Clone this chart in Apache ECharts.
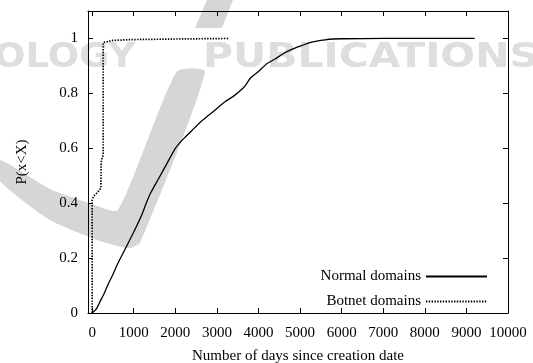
<!DOCTYPE html>
<html>
<head>
<meta charset="utf-8">
<script src="https://cdn.jsdelivr.net/npm/echarts@6/dist/echarts.min.js"></script>
<style>html,body{margin:0;padding:0;background:#fff}#c{width:533px;height:363px}</style>
</head>
<body>
<div id="c"></div>
<script>
// ---- data ----
var xTicks = [0, 1000, 2000, 3000, 4000, 5000, 6000, 7000, 8000, 9000, 10000];
var yTicks = [0, 0.2, 0.4, 0.6, 0.8, 1];
var seriesNames = ['Normal domains', 'Botnet domains'];
var normalDays = [0, 100, 200, 300, 400, 500, 600, 800, 1000, 1200, 1300, 1400, 1600, 1800, 2000, 2200, 2400, 2600, 2800, 3000, 3200, 3400, 3600, 3700, 3800, 3900, 4000, 4200, 4400, 4600, 4800, 5000, 5200, 5400, 5600, 5800, 6000, 7000, 9200];
var normalP = [0, 0.015, 0.045, 0.075, 0.11, 0.14, 0.175, 0.235, 0.295, 0.36, 0.4, 0.435, 0.49, 0.545, 0.6, 0.635, 0.665, 0.695, 0.72, 0.745, 0.77, 0.79, 0.815, 0.832, 0.855, 0.868, 0.88, 0.908, 0.925, 0.945, 0.96, 0.972, 0.983, 0.99, 0.995, 0.998, 0.999, 1, 1];
var botnetDays = [0, 0, 30, 100, 160, 210, 215, 240, 265, 265, 300, 500, 1000, 2000, 3300];
var botnetP = [0, 0.41, 0.425, 0.435, 0.445, 0.455, 0.545, 0.565, 0.575, 0.985, 0.99, 0.993, 0.996, 0.998, 1];

function pairs(xs, ys) { return xs.map(function (x, i) { return [x, ys[i]]; }); }

var FONT = 'Liberation Serif';
var chart = echarts.init(document.getElementById('c'), null, { renderer: 'canvas' });

function line() { return { show: true, onZero: false, lineStyle: { color: '#000', width: 1 } }; }

chart.setOption({
  backgroundColor: '#fff',
  animation: false,
  graphic: [
    { type: 'polygon', z: -30, silent: true,
      shape: { points: [[207, 0], [233, 0], [222, 28], [195, 28]] },
      style: { fill: '#d6d6d6' } },
    { type: 'polygon', z: -30, silent: true,
      shape: { smooth: 0.2, points: [[176.5, 72], [205, 72], [140, 243], [128, 248], [100, 241], [50, 220], [0, 181], [0, 160], [50, 189], [92, 204], [118, 210]] },
      style: { fill: '#d6d6d6' } },
    { type: 'text', z: -20, silent: true, x: -6, y: 42, scaleX: 1.12,
      style: { text: 'OLOGY', font: 'bold 33px "DejaVu Sans"', fill: '#dedede', textVerticalAlign: 'top' } },
    { type: 'text', z: -20, silent: true, x: 203, y: 42, scaleX: 1.24,
      style: { text: 'PUBLICATIONS', font: 'bold 33px "DejaVu Sans"', fill: '#dedede', textVerticalAlign: 'top' } }
  ],
  grid: { left: 88, right: 25, top: 11, bottom: 50, containLabel: false, outerBoundsMode: 'none' },
  legend: {
    orient: 'vertical', right: 45, top: 269, padding: 0,
    align: 'right', itemWidth: 61, itemHeight: 14, itemGap: 10,
    itemStyle: { opacity: 0 },
    textStyle: { fontFamily: FONT, fontSize: 15, color: '#000' },
    data: seriesNames
  },
  xAxis: [
    {
      type: 'value', position: 'bottom', min: -100, max: 10000,
      axisLine: line(), splitLine: { show: false },
      name: 'Number of days since creation date', nameLocation: 'middle', nameGap: 36,
      nameTextStyle: { fontFamily: FONT, fontSize: 15, color: '#000' },
      axisTick: { show: true, inside: true, length: 5, lineStyle: { color: '#000' }, customValues: xTicks },
      axisLabel: { show: true, margin: 13, fontFamily: FONT, fontSize: 15, color: '#000', customValues: xTicks,
        formatter: function (v) { return String(v); } }
    },
    {
      type: 'value', position: 'top', min: -100, max: 10000,
      axisLine: line(), splitLine: { show: false },
      axisTick: { show: true, inside: true, length: 5, lineStyle: { color: '#000' }, customValues: xTicks },
      axisLabel: { show: false }
    }
  ],
  yAxis: [
    {
      type: 'value', position: 'left', min: 0, max: 1.1,
      axisLine: line(), splitLine: { show: false },
      name: 'P(x<X)', nameLocation: 'middle', nameGap: 58, nameRotate: 90,
      nameTextStyle: { fontFamily: FONT, fontSize: 15, color: '#000' },
      axisTick: { show: true, inside: true, length: 5, lineStyle: { color: '#000' }, customValues: yTicks },
      axisLabel: { show: true, margin: 10, fontFamily: FONT, fontSize: 15, color: '#000', customValues: yTicks,
        formatter: function (v) { return String(Math.round(v * 10) / 10); } }
    },
    {
      type: 'value', position: 'right', min: 0, max: 1.1,
      axisLine: line(), splitLine: { show: false },
      axisTick: { show: true, inside: true, length: 5, lineStyle: { color: '#000' }, customValues: yTicks },
      axisLabel: { show: false }
    }
  ],
  series: [
    { name: seriesNames[0], type: 'line', xAxisIndex: 0, yAxisIndex: 0,
      data: pairs(normalDays, normalP), showSymbol: false, symbol: 'none', smooth: 0.2,
      lineStyle: { color: '#000', width: 1.3 }, itemStyle: { color: '#000' } },
    { name: seriesNames[1], type: 'line', xAxisIndex: 0, yAxisIndex: 0,
      data: pairs(botnetDays, botnetP), showSymbol: false, symbol: 'none',
      lineStyle: { color: '#000', width: 1.7, type: [1.4, 1.4] }, itemStyle: { color: '#000' } }
  ]
});
</script>
</body>
</html>
